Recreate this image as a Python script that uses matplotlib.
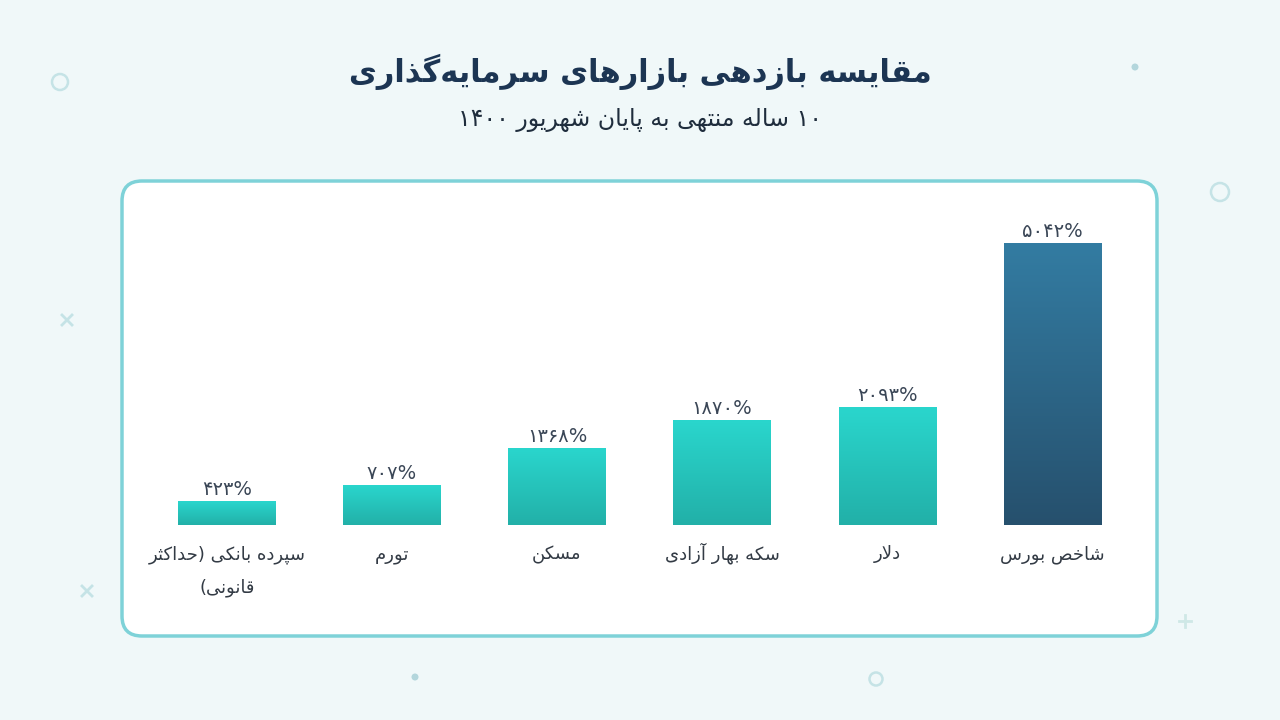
import re
import numpy as np
import matplotlib
matplotlib.use('Agg')
import matplotlib.pyplot as plt
from matplotlib.patches import FancyBboxPatch, Circle
from matplotlib.colors import LinearSegmentedColormap

# data
categories = ['سپرده بانکی (حداکثر\nقانونی)', 'تورم', 'مسکن', 'سکه بهار آزادی', 'دلار', 'شاخص بورس']
values = [423, 707, 1368, 1870, 2093, 5042]
title = 'مقایسه بازدهی بازارهای سرمایه\u200cگذاری'
subtitle = '۱۰ ساله منتهی به پایان شهریور ۱۴۰۰'

# small arabic shaper (matplotlib has no text shaping)
FORMS = {
    'ا': ('\uFE8D', '\uFE8E', None, None),
    'آ': ('\uFE81', '\uFE82', None, None),
    'ب': ('\uFE8F', '\uFE90', '\uFE91', '\uFE92'),
    'پ': ('\uFB56', '\uFB57', '\uFB58', '\uFB59'),
    'ت': ('\uFE95', '\uFE96', '\uFE97', '\uFE98'),
    'ث': ('\uFE99', '\uFE9A', '\uFE9B', '\uFE9C'),
    'ح': ('\uFEA1', '\uFEA2', '\uFEA3', '\uFEA4'),
    'خ': ('\uFEA5', '\uFEA6', '\uFEA7', '\uFEA8'),
    'د': ('\uFEA9', '\uFEAA', None, None),
    'ذ': ('\uFEAB', '\uFEAC', None, None),
    'ر': ('\uFEAD', '\uFEAE', None, None),
    'ز': ('\uFEAF', '\uFEB0', None, None),
    'س': ('\uFEB1', '\uFEB2', '\uFEB3', '\uFEB4'),
    'ش': ('\uFEB5', '\uFEB6', '\uFEB7', '\uFEB8'),
    'ص': ('\uFEB9', '\uFEBA', '\uFEBB', '\uFEBC'),
    'ق': ('\uFED5', '\uFED6', '\uFED7', '\uFED8'),
    'ک': ('\uFB8E', '\uFB8F', '\uFB90', '\uFB91'),
    'گ': ('\uFB92', '\uFB93', '\uFB94', '\uFB95'),
    'ل': ('\uFEDD', '\uFEDE', '\uFEDF', '\uFEE0'),
    'م': ('\uFEE1', '\uFEE2', '\uFEE3', '\uFEE4'),
    'ن': ('\uFEE5', '\uFEE6', '\uFEE7', '\uFEE8'),
    'ه': ('\uFEE9', '\uFEEA', '\uFEEB', '\uFEEC'),
    'و': ('\uFEED', '\uFEEE', None, None),
    'ی': ('\uFBFC', '\uFBFD', '\uFBFE', '\uFBFF'),
}
LAMALEF = {'ا': ('\uFEFB', '\uFEFC'), 'آ': ('\uFEF5', '\uFEF6')}
MIRROR = {'(': ')', ')': '('}


def shape(s):
    out = []
    prev_joins = False
    i = 0
    while i < len(s):
        c = s[i]
        if c not in FORMS:
            out.append(c)
            prev_joins = False
            i += 1
            continue
        nxt = s[i + 1] if i + 1 < len(s) else ''
        if c == 'ل' and nxt in LAMALEF:
            out.append(LAMALEF[nxt][1 if prev_joins else 0])
            prev_joins = False
            i += 2
            continue
        f = FORMS[c]
        dual = f[2] is not None
        next_joins = dual and nxt in FORMS
        if prev_joins and next_joins:
            out.append(f[3])
        elif prev_joins:
            out.append(f[1])
        elif next_joins:
            out.append(f[2])
        else:
            out.append(f[0])
        prev_joins = dual
        i += 1
    s = ''.join(out).replace('\u200c', '')
    runs = re.findall(r'[0-9\u06F0-\u06F9%]+|[^0-9\u06F0-\u06F9%]', s)
    return ''.join(MIRROR.get(r, r) for r in reversed(runs))


def fa_num(v):
    return str(v).translate(str.maketrans('0123456789', '۰۱۲۳۴۵۶۷۸۹')) + '%'


plt.rcParams['font.family'] = ['DejaVu Sans']

W, H = 1280, 720
fig = plt.figure(figsize=(12.8, 7.2), dpi=100)
fig.patch.set_facecolor('#f0f8f9')

# background layer in pixel coordinates
bg = fig.add_axes([0, 0, 1, 1])
bg.set_xlim(0, W)
bg.set_ylim(H, 0)
bg.axis('off')
bg.add_patch(FancyBboxPatch((122, 181), 1035, 455, boxstyle='round,pad=0,rounding_size=20',
                            facecolor='white', edgecolor='#7ed2d8', linewidth=2.5))
deco = '#c5e3e6'
for cx, cy, r in [(60, 82, 8), (1220, 192, 9), (876, 679, 6.5)]:
    bg.add_patch(Circle((cx, cy), r, fill=False, edgecolor=deco, linewidth=1.8))
for cx, cy, r in [(1135, 67, 3.5), (415, 677, 3.5)]:
    bg.add_patch(Circle((cx, cy), r, facecolor='#b3d6dc', edgecolor='none'))
for cx, cy in [(67, 320), (87, 591)]:
    bg.plot([cx - 5, cx + 5], [cy - 5, cy + 5], color=deco, lw=2)
    bg.plot([cx - 5, cx + 5], [cy + 5, cy - 5], color=deco, lw=2)
bg.plot([1179, 1191], [621, 621], color='#cfe8e6', lw=2)
bg.plot([1185, 1185], [615, 627], color='#cfe8e6', lw=2)

fig.text(0.5, 1 - 72 / H, shape(title), ha='center', va='center', fontsize=22,
         fontweight='bold', color='#1c3553')
fig.text(0.5, 1 - 120 / H, shape(subtitle), ha='center', va='center', fontsize=17,
         color='#1f2d3d')

# chart axes over the panel
ax = fig.add_axes([122 / W, 1 - 636 / H, 1035 / W, 455 / H])
ax.patch.set_alpha(0)
ax.axis('off')

teal = LinearSegmentedColormap.from_list('teal', ['#22b0a8', '#2ad6cd'])
navy = LinearSegmentedColormap.from_list('navy', ['#26506d', '#337ca2'])
grad = np.linspace(0, 1, 256).reshape(-1, 1)
bw = 0.588
px = 0.0559  # pixels per value unit
x = np.arange(len(values))
for i, v in enumerate(values):
    cmap = navy if v == max(values) else teal
    ax.imshow(grad, extent=[x[i] - bw / 2, x[i] + bw / 2, 0, v], origin='lower',
              aspect='auto', cmap=cmap, zorder=2)
    ax.text(x[i], v + 12 / px, fa_num(v), ha='center', va='center', fontsize=14,
            color='#3a4656')
    for j, line in enumerate(categories[i].split('\n')):
        ax.text(x[i], -(34 + 33 * j) / px, shape(line), ha='center', va='baseline',
                fontsize=13, color='#333b45')

ax.set_xlim(-0.636, 5.636)
ax.set_ylim(-1985, 6153)

fig.savefig('out.png', dpi=100, facecolor=fig.get_facecolor())
